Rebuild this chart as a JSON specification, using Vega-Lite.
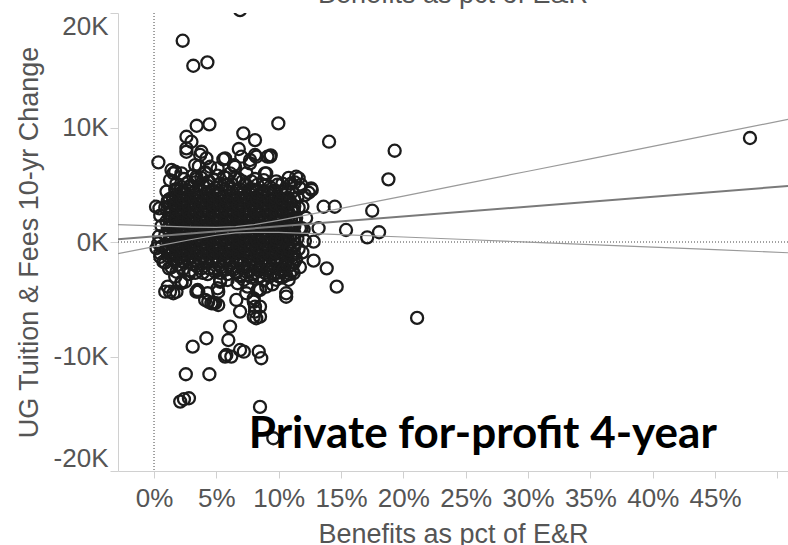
{
  "$schema": "https://vega.github.io/schema/vega-lite/v6.json",
  "usermeta": {"embedOptions": {"actions": false}},
  "autosize": {"type": "none"},
  "padding": {"left": 118, "top": 13, "right": 0, "bottom": 74},
  "width": 670,
  "height": 458,
  "background": "white",
  "config": {"view": {"stroke": null}},
  "datasets": {
    "points": [
      {"benefit":0.005,"change":-1300},{"benefit":0.006,"change":-400},{"benefit":0.004,"change":500},{"benefit":0.006,"change":1400},{"benefit":0.005,"change":2300},
      {"benefit":0.009,"change":-1800},{"benefit":0.011,"change":-1200},{"benefit":0.010,"change":-600},{"benefit":0.012,"change":0},{"benefit":0.009,"change":600},{"benefit":0.011,"change":1200},{"benefit":0.010,"change":1800},{"benefit":0.012,"change":2400},{"benefit":0.009,"change":3000},{"benefit":0.011,"change":3600},{"benefit":0.010,"change":4400},
      {"benefit":0.014,"change":-2200},{"benefit":0.016,"change":-1500},{"benefit":0.015,"change":-900},{"benefit":0.017,"change":-300},{"benefit":0.014,"change":300},{"benefit":0.016,"change":900},{"benefit":0.015,"change":1500},{"benefit":0.017,"change":2100},{"benefit":0.014,"change":2700},{"benefit":0.016,"change":3300},{"benefit":0.015,"change":3900},{"benefit":0.017,"change":4600},
      {"benefit":0.019,"change":-2000},{"benefit":0.021,"change":-1400},{"benefit":0.020,"change":-800},{"benefit":0.022,"change":-200},{"benefit":0.019,"change":400},{"benefit":0.021,"change":1000},{"benefit":0.020,"change":1600},{"benefit":0.022,"change":2200},{"benefit":0.019,"change":2800},{"benefit":0.021,"change":3400},{"benefit":0.020,"change":4000},{"benefit":0.022,"change":4800},
      {"benefit":0.024,"change":-1700},{"benefit":0.026,"change":-1100},{"benefit":0.025,"change":-500},{"benefit":0.027,"change":100},{"benefit":0.024,"change":700},{"benefit":0.026,"change":1300},{"benefit":0.025,"change":1900},{"benefit":0.027,"change":2500},{"benefit":0.024,"change":3100},{"benefit":0.026,"change":3700},{"benefit":0.025,"change":4300},{"benefit":0.027,"change":5200},
      {"benefit":0.029,"change":-2500},{"benefit":0.031,"change":-1900},{"benefit":0.030,"change":-1300},{"benefit":0.032,"change":-700},{"benefit":0.029,"change":-100},{"benefit":0.031,"change":500},{"benefit":0.030,"change":1100},{"benefit":0.032,"change":1700},{"benefit":0.029,"change":2300},{"benefit":0.031,"change":2900},{"benefit":0.030,"change":3500},{"benefit":0.032,"change":4100},{"benefit":0.029,"change":4900},{"benefit":0.031,"change":5800},
      {"benefit":0.034,"change":-2100},{"benefit":0.036,"change":-1500},{"benefit":0.035,"change":-900},{"benefit":0.037,"change":-300},{"benefit":0.034,"change":300},{"benefit":0.036,"change":900},{"benefit":0.035,"change":1500},{"benefit":0.037,"change":2100},{"benefit":0.034,"change":2700},{"benefit":0.036,"change":3300},{"benefit":0.035,"change":3900},{"benefit":0.037,"change":4500},{"benefit":0.034,"change":5500},{"benefit":0.036,"change":6600},
      {"benefit":0.039,"change":-2700},{"benefit":0.041,"change":-1800},{"benefit":0.040,"change":-1200},{"benefit":0.042,"change":-600},{"benefit":0.039,"change":0},{"benefit":0.041,"change":600},{"benefit":0.040,"change":1200},{"benefit":0.042,"change":1800},{"benefit":0.039,"change":2400},{"benefit":0.041,"change":3000},{"benefit":0.040,"change":3600},{"benefit":0.042,"change":4200},{"benefit":0.039,"change":5000},{"benefit":0.041,"change":6100},
      {"benefit":0.044,"change":-2300},{"benefit":0.046,"change":-1600},{"benefit":0.045,"change":-1000},{"benefit":0.047,"change":-400},{"benefit":0.044,"change":200},{"benefit":0.046,"change":800},{"benefit":0.045,"change":1400},{"benefit":0.047,"change":2000},{"benefit":0.044,"change":2600},{"benefit":0.046,"change":3200},{"benefit":0.045,"change":3800},{"benefit":0.047,"change":4400},{"benefit":0.044,"change":5300},
      {"benefit":0.049,"change":-2600},{"benefit":0.051,"change":-1900},{"benefit":0.050,"change":-1300},{"benefit":0.052,"change":-700},{"benefit":0.049,"change":-100},{"benefit":0.051,"change":500},{"benefit":0.050,"change":1100},{"benefit":0.052,"change":1700},{"benefit":0.049,"change":2300},{"benefit":0.051,"change":2900},{"benefit":0.050,"change":3500},{"benefit":0.052,"change":4100},{"benefit":0.049,"change":4700},{"benefit":0.051,"change":5800},
      {"benefit":0.054,"change":-2200},{"benefit":0.056,"change":-1500},{"benefit":0.055,"change":-900},{"benefit":0.057,"change":-300},{"benefit":0.054,"change":300},{"benefit":0.056,"change":900},{"benefit":0.055,"change":1500},{"benefit":0.057,"change":2100},{"benefit":0.054,"change":2700},{"benefit":0.056,"change":3300},{"benefit":0.055,"change":3900},{"benefit":0.057,"change":4600},
      {"benefit":0.059,"change":-2800},{"benefit":0.061,"change":-2000},{"benefit":0.060,"change":-1300},{"benefit":0.062,"change":-700},{"benefit":0.059,"change":-100},{"benefit":0.061,"change":500},{"benefit":0.060,"change":1100},{"benefit":0.062,"change":1700},{"benefit":0.059,"change":2300},{"benefit":0.061,"change":2900},{"benefit":0.060,"change":3500},{"benefit":0.062,"change":4100},{"benefit":0.059,"change":5000},{"benefit":0.061,"change":6000},
      {"benefit":0.064,"change":-2400},{"benefit":0.066,"change":-1700},{"benefit":0.065,"change":-1000},{"benefit":0.067,"change":-400},{"benefit":0.064,"change":200},{"benefit":0.066,"change":800},{"benefit":0.065,"change":1400},{"benefit":0.067,"change":2000},{"benefit":0.064,"change":2600},{"benefit":0.066,"change":3200},{"benefit":0.065,"change":3800},{"benefit":0.067,"change":4500},
      {"benefit":0.069,"change":-2900},{"benefit":0.071,"change":-2300},{"benefit":0.070,"change":-1600},{"benefit":0.072,"change":-900},{"benefit":0.069,"change":-300},{"benefit":0.071,"change":300},{"benefit":0.070,"change":900},{"benefit":0.072,"change":1500},{"benefit":0.069,"change":2100},{"benefit":0.071,"change":2700},{"benefit":0.070,"change":3300},{"benefit":0.072,"change":3900},{"benefit":0.069,"change":4600},{"benefit":0.071,"change":5300},
      {"benefit":0.074,"change":-2600},{"benefit":0.076,"change":-2000},{"benefit":0.075,"change":-1300},{"benefit":0.077,"change":-700},{"benefit":0.074,"change":-100},{"benefit":0.076,"change":500},{"benefit":0.075,"change":1100},{"benefit":0.077,"change":1700},{"benefit":0.074,"change":2300},{"benefit":0.076,"change":2900},{"benefit":0.075,"change":3500},{"benefit":0.077,"change":4200},{"benefit":0.074,"change":5000},
      {"benefit":0.079,"change":-2800},{"benefit":0.081,"change":-2200},{"benefit":0.080,"change":-1500},{"benefit":0.082,"change":-900},{"benefit":0.079,"change":-300},{"benefit":0.081,"change":300},{"benefit":0.080,"change":900},{"benefit":0.082,"change":1500},{"benefit":0.079,"change":2100},{"benefit":0.081,"change":2700},{"benefit":0.080,"change":3300},{"benefit":0.082,"change":3900},{"benefit":0.079,"change":4600},{"benefit":0.081,"change":5500},
      {"benefit":0.084,"change":-2500},{"benefit":0.086,"change":-1900},{"benefit":0.085,"change":-1200},{"benefit":0.087,"change":-600},{"benefit":0.084,"change":0},{"benefit":0.086,"change":600},{"benefit":0.085,"change":1200},{"benefit":0.087,"change":1800},{"benefit":0.084,"change":2400},{"benefit":0.086,"change":3000},{"benefit":0.085,"change":3600},{"benefit":0.087,"change":4300},
      {"benefit":0.089,"change":-2700},{"benefit":0.091,"change":-2100},{"benefit":0.090,"change":-1400},{"benefit":0.092,"change":-800},{"benefit":0.089,"change":-200},{"benefit":0.091,"change":400},{"benefit":0.090,"change":1000},{"benefit":0.092,"change":1600},{"benefit":0.089,"change":2200},{"benefit":0.091,"change":2800},{"benefit":0.090,"change":3400},{"benefit":0.092,"change":4100},{"benefit":0.089,"change":4900},
      {"benefit":0.094,"change":-2300},{"benefit":0.096,"change":-1600},{"benefit":0.095,"change":-1000},{"benefit":0.097,"change":-400},{"benefit":0.094,"change":200},{"benefit":0.096,"change":800},{"benefit":0.095,"change":1400},{"benefit":0.097,"change":2000},{"benefit":0.094,"change":2600},{"benefit":0.096,"change":3200},{"benefit":0.095,"change":3800},{"benefit":0.097,"change":4500},
      {"benefit":0.099,"change":-2700},{"benefit":0.101,"change":-2000},{"benefit":0.100,"change":-1300},{"benefit":0.102,"change":-600},{"benefit":0.099,"change":0},{"benefit":0.101,"change":600},{"benefit":0.100,"change":1200},{"benefit":0.102,"change":1800},{"benefit":0.099,"change":2400},{"benefit":0.101,"change":3000},{"benefit":0.100,"change":3700},{"benefit":0.102,"change":4400},{"benefit":0.099,"change":5000},
      {"benefit":0.104,"change":-2500},{"benefit":0.106,"change":-1800},{"benefit":0.105,"change":-1100},{"benefit":0.107,"change":-400},{"benefit":0.104,"change":300},{"benefit":0.106,"change":1000},{"benefit":0.105,"change":1700},{"benefit":0.107,"change":2400},{"benefit":0.104,"change":3100},{"benefit":0.106,"change":3800},{"benefit":0.105,"change":4600},
      {"benefit":0.109,"change":-2800},{"benefit":0.111,"change":-2000},{"benefit":0.110,"change":-1200},{"benefit":0.112,"change":-400},{"benefit":0.109,"change":400},{"benefit":0.111,"change":1200},{"benefit":0.110,"change":2000},{"benefit":0.112,"change":2800},{"benefit":0.109,"change":3600},{"benefit":0.111,"change":4400},{"benefit":0.110,"change":5100},
      {"benefit":0.114,"change":-1500},{"benefit":0.116,"change":-600},{"benefit":0.115,"change":300},{"benefit":0.117,"change":1200},{"benefit":0.114,"change":2100},{"benefit":0.116,"change":3000},{"benefit":0.115,"change":3900},{"benefit":0.117,"change":4700},
      {"benefit":0.119,"change":-900},{"benefit":0.121,"change":100},{"benefit":0.120,"change":1100},{"benefit":0.122,"change":2100},{"benefit":0.119,"change":3100},{"benefit":0.121,"change":4100},
      {"benefit":0.0125,"change":-1050},{"benefit":0.0125,"change":-450},{"benefit":0.0125,"change":150},{"benefit":0.0125,"change":750},{"benefit":0.0125,"change":1350},{"benefit":0.0125,"change":1950},{"benefit":0.0125,"change":2550},{"benefit":0.0125,"change":3150},{"benefit":0.0125,"change":3750},
      {"benefit":0.0175,"change":-1550},{"benefit":0.0175,"change":-950},{"benefit":0.0175,"change":-350},{"benefit":0.0175,"change":250},{"benefit":0.0175,"change":850},{"benefit":0.0175,"change":1450},{"benefit":0.0175,"change":2050},{"benefit":0.0175,"change":2650},{"benefit":0.0175,"change":3250},{"benefit":0.0175,"change":3850},{"benefit":0.0175,"change":4450},
      {"benefit":0.0225,"change":-1650},{"benefit":0.0225,"change":-1050},{"benefit":0.0225,"change":-450},{"benefit":0.0225,"change":150},{"benefit":0.0225,"change":750},{"benefit":0.0225,"change":1350},{"benefit":0.0225,"change":1950},{"benefit":0.0225,"change":2550},{"benefit":0.0225,"change":3150},{"benefit":0.0225,"change":3750},{"benefit":0.0225,"change":4350},
      {"benefit":0.0275,"change":-1550},{"benefit":0.0275,"change":-950},{"benefit":0.0275,"change":-350},{"benefit":0.0275,"change":250},{"benefit":0.0275,"change":850},{"benefit":0.0275,"change":1450},{"benefit":0.0275,"change":2050},{"benefit":0.0275,"change":2650},{"benefit":0.0275,"change":3250},{"benefit":0.0275,"change":3850},{"benefit":0.0275,"change":4450},
      {"benefit":0.0325,"change":-1650},{"benefit":0.0325,"change":-1050},{"benefit":0.0325,"change":-450},{"benefit":0.0325,"change":150},{"benefit":0.0325,"change":750},{"benefit":0.0325,"change":1350},{"benefit":0.0325,"change":1950},{"benefit":0.0325,"change":2550},{"benefit":0.0325,"change":3150},{"benefit":0.0325,"change":3750},{"benefit":0.0325,"change":4350},
      {"benefit":0.0375,"change":-1550},{"benefit":0.0375,"change":-950},{"benefit":0.0375,"change":-350},{"benefit":0.0375,"change":250},{"benefit":0.0375,"change":850},{"benefit":0.0375,"change":1450},{"benefit":0.0375,"change":2050},{"benefit":0.0375,"change":2650},{"benefit":0.0375,"change":3250},{"benefit":0.0375,"change":3850},{"benefit":0.0375,"change":4450},
      {"benefit":0.0425,"change":-1650},{"benefit":0.0425,"change":-1050},{"benefit":0.0425,"change":-450},{"benefit":0.0425,"change":150},{"benefit":0.0425,"change":750},{"benefit":0.0425,"change":1350},{"benefit":0.0425,"change":1950},{"benefit":0.0425,"change":2550},{"benefit":0.0425,"change":3150},{"benefit":0.0425,"change":3750},{"benefit":0.0425,"change":4350},
      {"benefit":0.0475,"change":-1550},{"benefit":0.0475,"change":-950},{"benefit":0.0475,"change":-350},{"benefit":0.0475,"change":250},{"benefit":0.0475,"change":850},{"benefit":0.0475,"change":1450},{"benefit":0.0475,"change":2050},{"benefit":0.0475,"change":2650},{"benefit":0.0475,"change":3250},{"benefit":0.0475,"change":3850},{"benefit":0.0475,"change":4450},
      {"benefit":0.0525,"change":-1650},{"benefit":0.0525,"change":-1050},{"benefit":0.0525,"change":-450},{"benefit":0.0525,"change":150},{"benefit":0.0525,"change":750},{"benefit":0.0525,"change":1350},{"benefit":0.0525,"change":1950},{"benefit":0.0525,"change":2550},{"benefit":0.0525,"change":3150},{"benefit":0.0525,"change":3750},{"benefit":0.0525,"change":4350},
      {"benefit":0.0575,"change":-1550},{"benefit":0.0575,"change":-950},{"benefit":0.0575,"change":-350},{"benefit":0.0575,"change":250},{"benefit":0.0575,"change":850},{"benefit":0.0575,"change":1450},{"benefit":0.0575,"change":2050},{"benefit":0.0575,"change":2650},{"benefit":0.0575,"change":3250},{"benefit":0.0575,"change":3850},{"benefit":0.0575,"change":4450},
      {"benefit":0.0625,"change":-1650},{"benefit":0.0625,"change":-1050},{"benefit":0.0625,"change":-450},{"benefit":0.0625,"change":150},{"benefit":0.0625,"change":750},{"benefit":0.0625,"change":1350},{"benefit":0.0625,"change":1950},{"benefit":0.0625,"change":2550},{"benefit":0.0625,"change":3150},{"benefit":0.0625,"change":3750},{"benefit":0.0625,"change":4350},
      {"benefit":0.0675,"change":-1550},{"benefit":0.0675,"change":-950},{"benefit":0.0675,"change":-350},{"benefit":0.0675,"change":250},{"benefit":0.0675,"change":850},{"benefit":0.0675,"change":1450},{"benefit":0.0675,"change":2050},{"benefit":0.0675,"change":2650},{"benefit":0.0675,"change":3250},{"benefit":0.0675,"change":3850},{"benefit":0.0675,"change":4450},
      {"benefit":0.0725,"change":-1650},{"benefit":0.0725,"change":-1050},{"benefit":0.0725,"change":-450},{"benefit":0.0725,"change":150},{"benefit":0.0725,"change":750},{"benefit":0.0725,"change":1350},{"benefit":0.0725,"change":1950},{"benefit":0.0725,"change":2550},{"benefit":0.0725,"change":3150},{"benefit":0.0725,"change":3750},{"benefit":0.0725,"change":4350},
      {"benefit":0.0775,"change":-1550},{"benefit":0.0775,"change":-950},{"benefit":0.0775,"change":-350},{"benefit":0.0775,"change":250},{"benefit":0.0775,"change":850},{"benefit":0.0775,"change":1450},{"benefit":0.0775,"change":2050},{"benefit":0.0775,"change":2650},{"benefit":0.0775,"change":3250},{"benefit":0.0775,"change":3850},{"benefit":0.0775,"change":4450},
      {"benefit":0.0825,"change":-1650},{"benefit":0.0825,"change":-1050},{"benefit":0.0825,"change":-450},{"benefit":0.0825,"change":150},{"benefit":0.0825,"change":750},{"benefit":0.0825,"change":1350},{"benefit":0.0825,"change":1950},{"benefit":0.0825,"change":2550},{"benefit":0.0825,"change":3150},{"benefit":0.0825,"change":3750},{"benefit":0.0825,"change":4350},
      {"benefit":0.0875,"change":-1550},{"benefit":0.0875,"change":-950},{"benefit":0.0875,"change":-350},{"benefit":0.0875,"change":250},{"benefit":0.0875,"change":850},{"benefit":0.0875,"change":1450},{"benefit":0.0875,"change":2050},{"benefit":0.0875,"change":2650},{"benefit":0.0875,"change":3250},{"benefit":0.0875,"change":3850},{"benefit":0.0875,"change":4450},
      {"benefit":0.0925,"change":-1650},{"benefit":0.0925,"change":-1050},{"benefit":0.0925,"change":-450},{"benefit":0.0925,"change":150},{"benefit":0.0925,"change":750},{"benefit":0.0925,"change":1350},{"benefit":0.0925,"change":1950},{"benefit":0.0925,"change":2550},{"benefit":0.0925,"change":3150},{"benefit":0.0925,"change":3750},{"benefit":0.0925,"change":4350},
      {"benefit":0.0975,"change":-1550},{"benefit":0.0975,"change":-950},{"benefit":0.0975,"change":-350},{"benefit":0.0975,"change":250},{"benefit":0.0975,"change":850},{"benefit":0.0975,"change":1450},{"benefit":0.0975,"change":2050},{"benefit":0.0975,"change":2650},{"benefit":0.0975,"change":3250},{"benefit":0.0975,"change":3850},{"benefit":0.0975,"change":4450},
      {"benefit":0.1025,"change":-1650},{"benefit":0.1025,"change":-1050},{"benefit":0.1025,"change":-450},{"benefit":0.1025,"change":150},{"benefit":0.1025,"change":750},{"benefit":0.1025,"change":1350},{"benefit":0.1025,"change":1950},{"benefit":0.1025,"change":2550},{"benefit":0.1025,"change":3150},{"benefit":0.1025,"change":3750},{"benefit":0.1025,"change":4350},
      {"benefit":0.1075,"change":-1550},{"benefit":0.1075,"change":-950},{"benefit":0.1075,"change":-350},{"benefit":0.1075,"change":250},{"benefit":0.1075,"change":850},{"benefit":0.1075,"change":1450},{"benefit":0.1075,"change":2050},{"benefit":0.1075,"change":2650},{"benefit":0.1075,"change":3250},{"benefit":0.1075,"change":3850},{"benefit":0.1075,"change":4450},
      {"benefit":0.1125,"change":-1050},{"benefit":0.1125,"change":-450},{"benefit":0.1125,"change":150},{"benefit":0.1125,"change":750},{"benefit":0.1125,"change":1350},{"benefit":0.1125,"change":1950},{"benefit":0.1125,"change":2550},{"benefit":0.1125,"change":3150},{"benefit":0.1125,"change":3750},
      {"benefit":0.018,"change":5100},{"benefit":0.024,"change":5500},{"benefit":0.033,"change":5200},{"benefit":0.038,"change":5600},{"benefit":0.043,"change":4900},{"benefit":0.048,"change":5400},{"benefit":0.053,"change":5100},{"benefit":0.058,"change":5600},{"benefit":0.063,"change":5000},{"benefit":0.068,"change":5500},{"benefit":0.073,"change":5000},{"benefit":0.078,"change":5300},{"benefit":0.083,"change":5000},{"benefit":0.088,"change":5400},{"benefit":0.093,"change":4800},{"benefit":0.098,"change":5300},{"benefit":0.103,"change":5100},{"benefit":0.108,"change":5600},{"benefit":0.113,"change":5200},{"benefit":0.118,"change":5000},{"benefit":0.124,"change":4300},
      {"benefit":0.062,"change":-2300},{"benefit":0.066,"change":-2700},{"benefit":0.071,"change":-2000},{"benefit":0.076,"change":-2500},{"benefit":0.081,"change":-2700},{"benefit":0.086,"change":-2300},{"benefit":0.091,"change":-2500},{"benefit":0.096,"change":-2800},{"benefit":0.101,"change":-2400},{"benefit":0.106,"change":-2900},{"benefit":0.111,"change":-2500},{"benefit":0.069,"change":-3000},{"benefit":0.084,"change":-3000},{"benefit":0.100,"change":-3000},{"benefit":0.105,"change":-2100},{"benefit":0.1125,"change":-1800},{"benefit":0.117,"change":-2200},
      {"benefit":0.012,"change":-2300},{"benefit":0.018,"change":-2600},{"benefit":0.023,"change":-2400},{"benefit":0.028,"change":-2800},{"benefit":0.033,"change":-2700},{"benefit":0.038,"change":-2300},{"benefit":0.043,"change":-2800},{"benefit":0.048,"change":-2300},{"benefit":0.053,"change":-2700},{"benefit":0.058,"change":-2400},
      {"benefit":0.069,"change":20250},{"benefit":0.023,"change":17580},{"benefit":0.0315,"change":15390},{"benefit":0.0428,"change":15690},{"benefit":0.0342,"change":10150},{"benefit":0.0444,"change":10270},{"benefit":0.0997,"change":10360},{"benefit":0.0716,"change":9490},{"benefit":0.1404,"change":8760},{"benefit":0.193,"change":7970},{"benefit":0.188,"change":5470},{"benefit":0.0035,"change":6960},{"benefit":0.026,"change":9190},{"benefit":0.030,"change":8760},{"benefit":0.081,"change":8900},{"benefit":0.081,"change":7600},{"benefit":0.068,"change":8120},{"benefit":0.0936,"change":7570},{"benefit":0.0556,"change":7220},{"benefit":0.037,"change":7600},{"benefit":0.026,"change":7880},{"benefit":0.077,"change":6870},{"benefit":0.065,"change":6570},{"benefit":0.0155,"change":6000},{"benefit":0.0128,"change":5410},{"benefit":0.090,"change":6000},{"benefit":0.116,"change":5560},{"benefit":0.1265,"change":4540},{"benefit":0.136,"change":3080},{"benefit":0.145,"change":3080},{"benefit":0.175,"change":2730},{"benefit":0.171,"change":410},{"benefit":0.1805,"change":850},{"benefit":0.154,"change":1050},{"benefit":0.132,"change":1200},{"benefit":0.0016,"change":3080},{"benefit":0.0043,"change":2940},{"benefit":0.093,"change":7450},{"benefit":0.1185,"change":1200},{"benefit":0.128,"change":30},{"benefit":0.128,"change":-1630},{"benefit":0.1385,"change":-2300},{"benefit":0.1465,"change":-3900},{"benefit":0.106,"change":-4780},{"benefit":0.211,"change":-6630},{"benefit":0.112,"change":-2730},{"benefit":0.085,"change":-4190},{"benefit":0.085,"change":-5650},{"benefit":0.085,"change":-6520},{"benefit":0.478,"change":9080},
      {"benefit":0.0128,"change":-4340},{"benefit":0.009,"change":-4340},{"benefit":0.017,"change":-3030},{"benefit":0.022,"change":-3470},{"benefit":0.034,"change":-4340},{"benefit":0.041,"change":-5060},{"benefit":0.046,"change":-5350},{"benefit":0.0515,"change":-5500},{"benefit":0.053,"change":-3320},{"benefit":0.0515,"change":-4340},{"benefit":0.066,"change":-5060},{"benefit":0.069,"change":-6080},{"benefit":0.061,"change":-7390},{"benefit":0.0596,"change":-8560},{"benefit":0.074,"change":-4480},{"benefit":0.080,"change":-5210},{"benefit":0.081,"change":-6080},{"benefit":0.082,"change":-6660},{"benefit":0.104,"change":-2440},{"benefit":0.031,"change":-9140},{"benefit":0.042,"change":-8410},{"benefit":0.058,"change":-9870},{"benefit":0.069,"change":-9430},{"benefit":0.084,"change":-9580},{"benefit":0.0435,"change":-5210},{"benefit":0.049,"change":-5350},{"benefit":0.080,"change":-6520},{"benefit":0.081,"change":-5650},{"benefit":0.080,"change":-4920},{"benefit":0.057,"change":-10010},{"benefit":0.062,"change":-10010},{"benefit":0.072,"change":-9580},{"benefit":0.086,"change":-10150},{"benefit":0.0444,"change":-11550},{"benefit":0.085,"change":-14400},{"benefit":0.0255,"change":-11550},{"benefit":0.021,"change":-13940},{"benefit":0.024,"change":-13730},{"benefit":0.028,"change":-13650},{"benefit":0.0957,"change":-17140},{"benefit":0.0155,"change":-4480},{"benefit":0.022,"change":-3600},{"benefit":0.0355,"change":-4340},{"benefit":0.0475,"change":-5350},{"benefit":0.053,"change":-3470},
      {"benefit":0.026,"change":8180},{"benefit":0.038,"change":7880},{"benefit":0.042,"change":7300},{"benefit":0.017,"change":6140},{"benefit":0.064,"change":6720},{"benefit":0.077,"change":7160},{"benefit":0.082,"change":7450},{"benefit":0.089,"change":6000},{"benefit":0.045,"change":6570},{"benefit":0.034,"change":5700},{"benefit":0.029,"change":4830},{"benefit":0.021,"change":4540},{"benefit":0.056,"change":5700},{"benefit":0.065,"change":5560},{"benefit":0.074,"change":6000},{"benefit":0.114,"change":5700},
      {"benefit":0.014,"change":6290},{"benefit":0.022,"change":6000},{"benefit":0.033,"change":6720},{"benefit":0.041,"change":6000},{"benefit":0.051,"change":6430},{"benefit":0.057,"change":7300},{"benefit":0.070,"change":7450},{"benefit":0.091,"change":7450},{"benefit":0.126,"change":4690},{"benefit":0.106,"change":-4480},{"benefit":0.011,"change":-3900},{"benefit":0.018,"change":-4340},{"benefit":0.025,"change":-3470},{"benefit":0.035,"change":-4190},{"benefit":0.043,"change":-4480},{"benefit":0.051,"change":-4040},{"benefit":0.059,"change":-3320},{"benefit":0.067,"change":-3600},{"benefit":0.075,"change":-3900},{"benefit":0.083,"change":-4190},{"benefit":0.098,"change":170},{"benefit":0.109,"change":-700},{"benefit":0.0035,"change":-110},{"benefit":0.005,"change":-990},{"benefit":0.0075,"change":-1720},{"benefit":0.002,"change":-550},
      {"benefit":0.072,"change":-3300},{"benefit":0.078,"change":-3100},{"benefit":0.088,"change":-3300},{"benefit":0.093,"change":-3000},{"benefit":0.098,"change":-3300},{"benefit":0.103,"change":-3100},{"benefit":0.108,"change":-3300},{"benefit":0.095,"change":-3700},{"benefit":0.090,"change":-3900}
    ],
    "trend": [
      {"benefit":-0.0289,"change":250,"series":"center"},{"benefit":0.5085,"change":4888,"series":"center"},
      {"benefit":-0.0289,"change":1520,"series":"upper"},{"benefit":0,"change":1402,"series":"upper"},{"benefit":0.03,"change":1300,"series":"upper"},{"benefit":0.05,"change":1274,"series":"upper"},{"benefit":0.0655,"change":1341,"series":"upper"},{"benefit":0.08,"change":1516,"series":"upper"},{"benefit":0.10,"change":1892,"series":"upper"},{"benefit":0.15,"change":2938,"series":"upper"},{"benefit":0.20,"change":4013,"series":"upper"},{"benefit":0.25,"change":5096,"series":"upper"},{"benefit":0.30,"change":6180,"series":"upper"},{"benefit":0.35,"change":7267,"series":"upper"},{"benefit":0.40,"change":8353,"series":"upper"},{"benefit":0.45,"change":9440,"series":"upper"},{"benefit":0.5085,"change":10713,"series":"upper"},
      {"benefit":-0.0289,"change":-1020,"series":"lower"},{"benefit":0,"change":-404,"series":"lower"},{"benefit":0.03,"change":216,"series":"lower"},{"benefit":0.05,"change":588,"series":"lower"},{"benefit":0.0655,"change":789,"series":"lower"},{"benefit":0.08,"change":846,"series":"lower"},{"benefit":0.10,"change":832,"series":"lower"},{"benefit":0.15,"change":650,"series":"lower"},{"benefit":0.20,"change":437,"series":"lower"},{"benefit":0.25,"change":218,"series":"lower"},{"benefit":0.30,"change":-4,"series":"lower"},{"benefit":0.35,"change":-227,"series":"lower"},{"benefit":0.40,"change":-451,"series":"lower"},{"benefit":0.45,"change":-674,"series":"lower"},{"benefit":0.5085,"change":-937,"series":"lower"}
    ],
    "label": [{"benefit":0.2637,"change":-17980,"text":"Private for-profit 4-year"}],
    "toptitle": [{"benefit":0.2398,"change":20830,"text":"Benefits as pct of E&R"}]
  },
  "layer": [
    {
      "data": {"values": [{}]},
      "mark": {"type": "rule", "color": "#444444", "strokeWidth": 1, "strokeDash": [1, 2]},
      "encoding": {"x": {"datum": 0, "type": "quantitative"}}
    },
    {
      "data": {"values": [{}]},
      "mark": {"type": "rule", "color": "#444444", "strokeWidth": 1, "strokeDash": [1, 2]},
      "encoding": {"y": {"datum": 0, "type": "quantitative"}}
    },
    {
      "data": {"name": "points"},
      "mark": {"type": "point", "shape": "circle", "filled": false, "size": 145, "strokeWidth": 2.3, "color": "#1c1c1c", "opacity": 1, "clip": true},
      "encoding": {
        "x": {
          "field": "benefit", "type": "quantitative",
          "scale": {"domain": [-0.0289, 0.5085], "nice": false, "zero": false},
          "axis": {
            "title": "Benefits as pct of E&R",
            "values": [0, 0.05, 0.1, 0.15, 0.2, 0.25, 0.3, 0.35, 0.4, 0.45, 0.5],
            "labelExpr": "datum.value > 0.49 ? '' : format(datum.value, '.0%')",
            "labelFlush": false,
            "labelFont": "Liberation Sans", "labelFontSize": 26, "labelColor": "#555555",
            "labelPadding": 7, "tickSize": 7, "tickColor": "#d0d0d0",
            "domainColor": "#d0d0d0", "gridColor": "#e8e8e8",
            "titleFont": "Liberation Sans", "titleFontSize": 27, "titleFontWeight": "normal", "titleColor": "#555555",
            "titleX": 335, "titleY": 71, "titleAlign": "center", "titleBaseline": "alphabetic"
          }
        },
        "y": {
          "field": "change", "type": "quantitative",
          "scale": {"domain": [-20000, 20000], "nice": false, "zero": false},
          "axis": {
            "title": "UG Tuition & Fees 10-yr Change",
            "values": [-20000, -10000, 0, 10000, 20000],
            "labelExpr": "(datum.value < 0 ? '-' : '') + abs(datum.value) / 1000 + 'K'",
            "labelFlush": true,
            "labelFont": "Liberation Sans", "labelFontSize": 26, "labelColor": "#555555",
            "labelPadding": 2, "tickSize": 8, "tickColor": "#d0d0d0",
            "domainColor": "#d0d0d0", "gridColor": "#e8e8e8",
            "titleFont": "Liberation Sans", "titleFontSize": 27, "titleFontWeight": "normal", "titleColor": "#555555",
            "titleX": -89, "titleY": 229, "titleAngle": 270, "titleAlign": "center", "titleBaseline": "middle"
          }
        }
      }
    },
    {
      "data": {"name": "trend"},
      "transform": [{"filter": "datum.series !== 'center'"}],
      "mark": {"type": "line", "color": "#9a9a9a", "strokeWidth": 1.2, "clip": true},
      "encoding": {
        "x": {"field": "benefit", "type": "quantitative"},
        "y": {"field": "change", "type": "quantitative"},
        "detail": {"field": "series"}
      }
    },
    {
      "data": {"name": "trend"},
      "transform": [{"filter": "datum.series === 'center'"}],
      "mark": {"type": "line", "color": "#7a7a7a", "strokeWidth": 2, "clip": true},
      "encoding": {
        "x": {"field": "benefit", "type": "quantitative"},
        "y": {"field": "change", "type": "quantitative"}
      }
    },
    {
      "data": {"name": "label"},
      "mark": {"type": "text", "font": "Lato", "fontWeight": "bold", "fontSize": 44, "color": "#000000", "align": "center", "baseline": "alphabetic"},
      "encoding": {
        "x": {"field": "benefit", "type": "quantitative"},
        "y": {"field": "change", "type": "quantitative"},
        "text": {"field": "text"}
      }
    },
    {
      "data": {"name": "toptitle"},
      "mark": {"type": "text", "font": "Liberation Sans", "fontSize": 27, "color": "#555555", "align": "center", "baseline": "alphabetic", "clip": false},
      "encoding": {
        "x": {"field": "benefit", "type": "quantitative"},
        "y": {"field": "change", "type": "quantitative"},
        "text": {"field": "text"}
      }
    }
  ]
}
